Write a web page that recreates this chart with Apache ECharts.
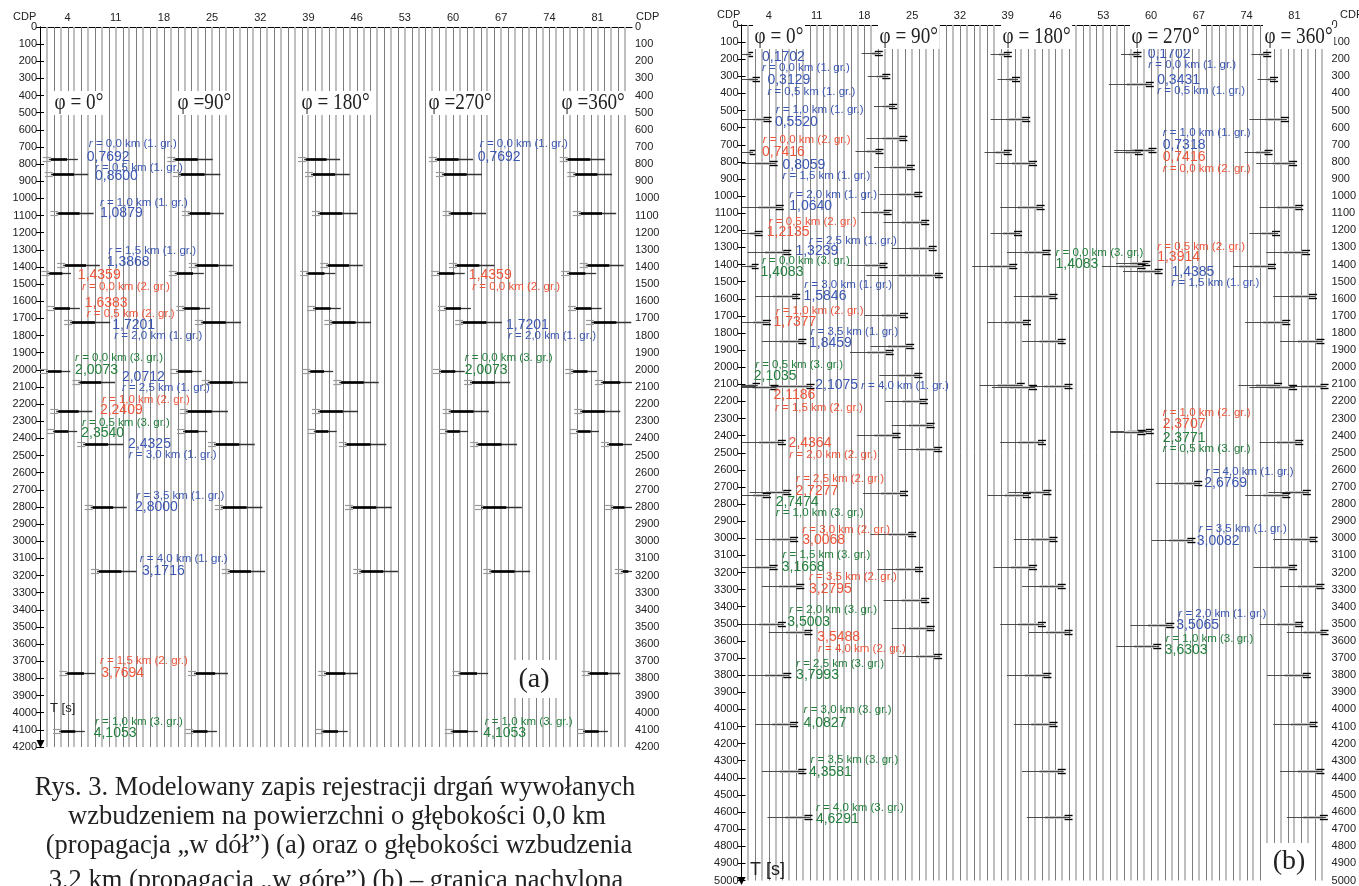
<!DOCTYPE html>
<html>
<head>
<meta charset="utf-8">
<script src="https://cdn.jsdelivr.net/npm/echarts@6/dist/echarts.min.js"></script>
<style>
  html, body { margin: 0; padding: 0; background: #ffffff; }
  #chart { width: 1359px; height: 886px; }
</style>
</head>
<body>
<div id="chart"></div>
<script>
// ---------- data ----------
const traceCdp = [1,2,3,4,5,6,7,8,9,10,11,12,13,14,15,16,17,18,19,20,21,22,23,24,25,26,27,28,29,30,
  31,32,33,34,35,36,37,38,39,40,41,42,43,44,45,46,47,48,49,50,51,52,53,54,55,56,57,58,59,60,
  61,62,63,64,65,66,67,68,69,70,71,72,73,74,75,76,77,78,79,80,81,82,83,84,85];
const cdpTicks = [4, 11, 18, 25, 32, 39, 46, 53, 60, 67, 74, 81];
const cdpMax = 86;
const tMaxA = 4200;
const tMaxB = 5000;

// (a) source at the surface: arrival times and source-receiver offsets
const aTime   = [769.2, 860.0, 1087.9, 1386.8, 1435.9, 1638.3, 1720.1, 2007.3, 2071.2, 2240.9, 2354.0, 2432.5, 2800.0, 3171.6, 3769.4, 4105.3];
const aOffset = ['0,0','0,5','1,0','1,5','0,0','0,5','2,0','0,0','2,5','1,0','0,5','3,0','3,5','4,0','1,5','1,0'];
const aRefl   = [1, 1, 1, 1, 2, 2, 1, 3, 1, 2, 3, 1, 1, 1, 2, 3];
// wavelet extent (CDP) in each azimuth gather: phi = 0, 90, 180, 270, 360
const aStart = [
  [0.4, 0.7, 1.5, 2.5, 0.2, 1.0, 3.5, 0.0, 4.7, 1.5, 1.0, 5.4, 6.5, 7.4, 2.8, 1.9],
  [18.5, 19.3, 20.6, 21.6, 18.7, 19.8, 22.5, 18.9, 23.5, 20.3, 19.9, 24.4, 25.4, 26.4, 21.5, 21.1],
  [37.5, 38.5, 39.5, 40.7, 37.8, 38.8, 41.3, 38.1, 42.6, 39.5, 38.9, 43.4, 44.3, 45.5, 40.4, 40.0],
  [56.5, 57.5, 58.5, 59.4, 56.8, 57.8, 60.3, 57.1, 61.6, 58.5, 58.0, 62.5, 63.2, 64.4, 59.9, 58.8],
  [75.5, 76.6, 77.4, 78.4, 75.7, 76.7, 79.3, 76.3, 80.6, 77.6, 77.0, 81.5, 82.1, 83.5, 78.7, 78.0]
];
const aEnd = [
  [5.5, 7.0, 7.8, 8.7, 4.5, 5.8, 10.2, 4.4, 10.9, 7.6, 5.4, 12.1, 12.6, 14.0, 8.0, 6.5],
  [25.1, 26.2, 26.7, 28.0, 23.8, 24.7, 29.2, 23.5, 30.2, 27.3, 24.3, 31.2, 32.3, 32.7, 27.3, 25.7],
  [43.6, 45.0, 46.1, 46.9, 42.9, 43.7, 48.1, 42.6, 49.2, 46.2, 43.1, 50.3, 51.1, 52.0, 46.2, 44.7],
  [62.9, 64.2, 64.8, 66.0, 61.7, 62.6, 67.1, 61.7, 68.3, 65.2, 62.2, 69.3, 70.0, 71.2, 65.1, 63.6],
  [82.1, 83.1, 83.7, 84.8, 80.8, 81.6, 85.9, 80.9, 86.0, 84.3, 81.2, 86.0, 86.0, 86.0, 84.3, 82.5]
];

// (b) source at 3,2 km depth, gathers phi = 0 / 180 / 360
const bTime   = [170.2, 312.9, 552.0, 741.6, 805.9, 1064.0, 1213.5, 1323.9, 1408.3, 1584.6, 1737.7, 1845.9, 2103.5, 2107.5,
                 2118.6, 2436.4, 2727.7, 2747.4, 3006.8, 3166.8, 3279.5, 3500.3, 3548.8, 3799.3, 4082.7, 4358.1, 4629.1];
const bOffset = ['0,0','0,5','1,0','0,0','1,5','2,0','0,5','2,5','0,0','3,0','1,0','3,5','0,5','4,0',
                 '1,5','2,0','2,5','1,0','3,0','1,5','3,5','2,0','4,0','2,5','3,0','3,5','4,0'];
const bRefl   = [1,1,1,2,1,1,2,1,3,1,2,1,3,1,2,2,2,3,2,3,2,3,2,3,3,3,3];
const bStart0   = [0.0,0.0,0.0,0.0,0.0,0.0,0.0,0.9,0.0,2.0,0.0,3.0,0.0,0.0,0.0,0.0,1.2,0.0,2.0,0.0,3.0,0.0,4.0,0.9,2.0,3.0,3.8];
const bEnd0     = [1.7,2.7,4.4,2.0,5.3,6.2,3.1,7.3,2.5,8.6,4.3,9.5,2.7,10.7,5.4,6.5,7.3,4.3,8.3,5.3,9.2,6.5,10.4,7.3,8.3,9.5,10.4];
const bStart180 = [36.5,37.5,36.5,35.6,37.2,37.9,36.5,38.9,33.8,39.9,36.0,41.1,34.9,41.5,36.7,37.9,39.1,36.0,39.9,36.9,41.1,37.9,42.1,38.9,39.9,41.1,41.8];
const bEnd180   = [39.6,40.8,42.3,39.6,43.3,44.4,41.1,45.3,40.4,46.3,42.4,47.5,41.5,48.5,43.3,44.6,45.4,42.4,46.3,43.3,47.5,44.6,48.5,45.4,46.3,47.5,48.5];
const bStart360 = [74.7,75.6,74.4,73.7,75.4,75.9,74.4,76.9,72.0,77.9,73.8,78.9,72.8,79.5,74.4,75.9,77.2,73.8,77.9,75.0,78.9,75.9,79.9,77.0,77.9,78.9,79.9];
const bEnd360   = [77.6,78.6,80.2,77.8,81.4,82.3,78.9,83.3,78.3,84.3,80.4,85.4,79.2,86.0,81.4,82.3,83.4,80.4,84.4,81.4,85.4,82.3,86.0,83.4,84.4,85.4,85.9];

// (b) gather phi = 90
const b90Time  = [165, 296, 475, 659, 737, 830, 990, 1091, 1153, 1302, 1405, 1459, 1696, 1878, 1913, 2045, 2196, 2339, 2399, 2481, 2733, 2975, 3178, 3359, 3527, 3688];
const b90Start = [17.6,18.5,19.4,18.3,16.7,19.4,20.2,17.5,20.8,22.0,15.6,18.3,18.0,18.9,15.9,20.2,21.1,22.0,16.9,23.0,17.8,18.9,19.9,20.8,22.0,23.0];
const b90End   = [20.7,21.8,22.8,24.3,20.8,25.4,26.5,22.0,27.5,28.6,21.4,29.5,24.4,25.3,22.3,26.5,27.3,28.3,23.3,29.4,24.4,25.6,26.6,27.5,28.3,29.4];

// (b) gather phi = 270
const b270Time   = [170.2, 343.1, 731.8, 741.6, 1391.4, 1408.3, 1438.5, 2370.7, 2377.1, 2676.9, 3008.2, 3506.5, 3630.3];
const b270Offset = ['0,0','0,5','1,0','0,0','0,5','0,0','1,5','1,0','0,5','4,0','3,5','2,0','1,0'];
const b270Refl   = [1, 1, 1, 2, 2, 3, 1, 2, 3, 1, 1, 1, 3];
const b270Start  = [55.6,53.8,54.6,54.6,54.9,52.8,55.9,54.0,54.0,60.7,60.1,57.0,54.9];
const b270End    = [58.6,60.4,60.8,58.8,59.9,59.2,61.7,60.4,59.2,67.5,66.5,63.4,61.5];

// ---------- annotation layout ----------
// [event index, value-text x (CDP), value dy (px), r-text x (CDP), r-text dy (px)]
const aNotes0 = [
  [0, 6.8, -2, 7.1, -15], [1, 8.0, 2, 8.0, -7], [2, 8.7, 0, 8.7, -11], [3, 9.7, -3, 9.9, -14],
  [4, 5.5, 2, 6.1, 14], [5, 6.5, -5, 6.8, 6], [6, 10.5, 3, 10.8, 14], [7, 5.1, -1, 5.1, -13],
  [8, 11.9, -5, 11.9, 6], [9, 8.7, -1, 9.0, -11], [10, 6.0, 3, 6.1, -8], [11, 12.8, 0, 12.9, 11],
  [12, 13.8, 0, 14.0, -11], [13, 14.8, 0, 14.5, -12], [14, 8.9, 0, 8.7, -12], [15, 7.8, 2, 8.0, -9]
];
const aNotes270 = [
  [0, 63.6, -2, 63.9, -15], [4, 62.3, 2, 62.8, 14], [6, 67.7, 3, 68.0, 14], [7, 61.7, -1, 61.7, -13], [15, 64.4, 2, 64.6, -9]
];
const bNotes0 = [
  [0, 3.0, 3, 3.0, 14], [1, 3.8, 2, 3.8, 13], [2, 4.9, 3, 5.0, -10], [3, 3.0, 0, 3.1, -12],
  [4, 6.0, 2, 6.0, 13], [5, 7.0, -1, 7.0, -12], [6, 3.7, 0, 4.0, -11], [7, 7.9, 0, 9.9, -11],
  [8, 2.8, 6, 3.0, -5], [9, 9.1, 0, 9.2, -11], [10, 4.7, 0, 5.0, -11], [11, 9.9, 2, 10.1, -9],
  [12, 1.8, -9, 2.0, -20], [13, 10.8, 0, 17.5, 0], [14, 4.7, 8, 4.9, 20], [15, 6.9, 1, 7.0, 13],
  [16, 7.9, -1, 8.0, -13], [17, 5.0, 7, 5.0, 18], [18, 8.9, 1, 8.9, -10], [19, 5.9, 0, 6.0, -12],
  [20, 9.9, 3, 9.9, -9], [21, 6.7, -2, 7.0, -14], [22, 11.1, 5, 11.2, 17], [23, 8.0, 0, 8.0, -11],
  [24, 9.1, 0, 9.1, -14], [25, 9.9, 1, 10.1, -11], [26, 10.9, 2, 10.9, -9]
];
const bNotes270 = [
  [0, 59.5, 0, 59.6, 11], [1, 60.9, -4, 60.9, 7], [2, 61.7, -5, 61.7, -17], [3, 61.7, 5, 61.7, 17],
  [4, 60.9, -6, 60.9, -16], [5, 46.0, -2, 46.0, -13], [6, 63.0, 1, 63.0, 12], [7, 61.7, -6, 61.7, -18],
  [8, 61.7, 6, 61.7, 17], [9, 67.8, 0, 68.0, -11], [10, 66.7, 1, 67.0, -11], [11, 63.7, 0, 64.0, -11],
  [12, 62.0, 4, 62.1, -7]
];

// ---------- helpers ----------
const SANS = '"Liberation Sans", Arial, sans-serif';
const SERIF = '"Liberation Serif", "Times New Roman", serif';
const reflColor = { 1: '#3b57b3', 2: '#f0553a', 3: '#23803d' };
const fmtTime = t => (t / 1000).toFixed(4).replace('.', ',');
const rText = (off, refl) => '{it|r} = ' + off + ' km (' + refl + '. gr.)';

function traceSeries(xi, yi, tMax) {
  return {
    type: 'custom', xAxisIndex: xi, yAxisIndex: yi, silent: true, z: 1,
    data: traceCdp.map(c => [c, 0, tMax]),
    encode: { x: 0, y: [1, 2] },
    renderItem: function (params, api) {
      const c = api.value(0);
      const p0 = api.coord([c, api.value(1)]);
      const p1 = api.coord([c, api.value(2)]);
      const light = params.dataIndex % 2 === 0;
      const x = Math.round(p0[0]) + (light ? 0 : 0.5);
      return { type: 'line', shape: { x1: x, y1: p0[1], x2: x, y2: p1[1] },
               style: { stroke: light ? '#b9b9b9' : '#7d7d7d', lineWidth: light ? 1.8 : 1 } };
    }
  };
}

// wavelet drawn from the surface-source record: grey negative lobe, black positive swing
function renderA(params, api) {
  const t = api.value(0);
  const p0 = api.coord([api.value(1), t]);
  const p1 = api.coord([api.value(2), t]);
  const y = Math.round(p0[1]) + 0.5, x0 = p0[0], x1 = p1[0];
  const L = x1 - x0;
  return { type: 'group', children: [
    { type: 'line', shape: { x1: x0, y1: y - 2, x2: x0 + 8, y2: y - 2 }, style: { stroke: '#999', lineWidth: 1.2 } },
    { type: 'line', shape: { x1: x0, y1: y + 2, x2: x0 + 8, y2: y + 2 }, style: { stroke: '#999', lineWidth: 1.2 } },
    { type: 'line', shape: { x1: x0 + 6, y1: y, x2: x1, y2: y }, style: { stroke: '#333', lineWidth: 1.3 } },
    { type: 'line', shape: { x1: x0 + 8, y1: y, x2: x0 + 8 + 0.6 * (L - 8), y2: y }, style: { stroke: '#000', lineWidth: 2.6 } }
  ] };
}

// wavelet drawn from the buried-source record: thin swing ending in a black double stroke
function renderB(params, api) {
  const t = api.value(0);
  const p0 = api.coord([api.value(1), t]);
  const p1 = api.coord([api.value(2), t]);
  const y = Math.round(p0[1]) + 0.5, x0 = p0[0], x1 = p1[0];
  const L = x1 - x0;
  const eq = Math.min(8, L * 0.4);
  return { type: 'group', children: [
    { type: 'line', shape: { x1: x0 + 0.4 * L, y1: y, x2: x1 - eq + 1, y2: y }, style: { stroke: '#c4c4c4', lineWidth: 3 } },
    { type: 'line', shape: { x1: x0, y1: y, x2: x1 - 2, y2: y }, style: { stroke: '#3a3a3a', lineWidth: 0.9 } },
    { type: 'line', shape: { x1: x1 - eq, y1: y - 2, x2: x1, y2: y - 2 }, style: { stroke: '#000', lineWidth: 1.4 } },
    { type: 'line', shape: { x1: x1 - eq, y1: y + 2, x2: x1, y2: y + 2 }, style: { stroke: '#000', lineWidth: 1.4 } }
  ] };
}

function eventSeries(xi, yi, times, starts, ends, render) {
  return {
    type: 'custom', xAxisIndex: xi, yAxisIndex: yi, silent: true, z: 3,
    data: times.map((t, i) => [t, starts[i], ends[i]]),
    encode: { x: [1, 2], y: 0 },
    renderItem: render
  };
}

function noteSeries(xi, yi, notes, times, offsets, refls) {
  return {
    type: 'custom', xAxisIndex: xi, yAxisIndex: yi, silent: true, z: 5,
    data: notes.map(n => [times[n[0]], n[1], n[2], n[3], n[4], n[0]]),
    encode: { x: [1, 3], y: 0 },
    renderItem: function (params, api) {
      const t = api.value(0);
      const k = api.value(5);
      const col = reflColor[refls[k]];
      const pv = api.coord([api.value(1), t]);
      const pr = api.coord([api.value(3), t]);
      return { type: 'group', children: [
        { type: 'text', x: pv[0], y: pv[1] + api.value(2),
          style: { text: fmtTime(t), fill: col, fontSize: 14, fontFamily: SANS, align: 'left', verticalAlign: 'middle' } },
        { type: 'text', x: pr[0], y: pr[1] + api.value(4),
          style: { text: rText(offsets[k], refls[k]), fill: col, fontSize: 11.5, fontFamily: SANS,
                   align: 'left', verticalAlign: 'middle', rich: { it: { fontStyle: 'italic', fontSize: 11.5, fill: col } } } }
      ] };
    }
  };
}

// ---------- axes ----------
function topAxis(gi) {
  return { gridIndex: gi, type: 'value', position: 'top', min: 0, max: cdpMax,
    axisLine: { show: false }, axisTick: { show: false }, splitLine: { show: false },
    axisLabel: { customValues: cdpTicks, fontSize: 11, color: '#222', margin: 4, fontFamily: SANS } };
}
function bottomAxis(gi) {
  return { gridIndex: gi, type: 'value', position: 'bottom', min: 0, max: cdpMax,
    axisLine: { show: true, lineStyle: { color: '#000', width: 1 } }, axisTick: { show: false },
    axisLabel: { show: false }, splitLine: { show: false } };
}
function timeAxis(gi, pos, tMax) {
  return { gridIndex: gi, type: 'value', position: pos, inverse: true, min: 0, max: tMax, interval: 100,
    axisLine: { show: true, lineStyle: { color: '#000', width: 1 } },
    axisTick: { show: true, length: 4, lineStyle: { color: '#000' } },
    axisLabel: { fontSize: 11, color: '#222', margin: 3, fontFamily: SANS, showMinLabel: true, showMaxLabel: true,
                 formatter: v => String(v) },
    splitLine: { show: false } };
}

// azimuth captions, set in a condensed serif
function phiLabel(x, y, s) {
  return { type: 'text', x: x, y: y, z: 10, scaleX: 0.8, originX: 0,
    style: { text: s, fontSize: 24, fontFamily: SERIF, fill: '#222', backgroundColor: '#fff', padding: [0, 2],
             align: 'left', verticalAlign: 'middle' } };
}
function plainText(x, y, s, size, family, align) {
  return { type: 'text', x: x, y: y, z: 10,
    style: { text: s, fontSize: size, fontFamily: family, fill: '#222', align: align || 'left', verticalAlign: 'middle' } };
}

const option = {
  animation: false,
  backgroundColor: '#ffffff',
  grid: [
    { left: 40, top: 27, width: 592, height: 720 },
    { left: 741.5, top: 25, width: 593.5, height: 860 }
  ],
  xAxis: [topAxis(0), bottomAxis(0), topAxis(1), bottomAxis(1)],
  yAxis: [timeAxis(0, 'left', tMaxA), timeAxis(0, 'right', tMaxA), timeAxis(1, 'left', tMaxB), timeAxis(1, 'right', tMaxB)],
  series: [
    traceSeries(0, 0, tMaxA),
    traceSeries(2, 2, tMaxB),
    ...aStart.map((s, g) => eventSeries(0, 0, aTime, s, aEnd[g], renderA)),
    eventSeries(2, 2, bTime, bStart0, bEnd0, renderB),
    eventSeries(2, 2, bTime, bStart180, bEnd180, renderB),
    eventSeries(2, 2, bTime, bStart360, bEnd360, renderB),
    eventSeries(2, 2, b90Time, b90Start, b90End, renderB),
    eventSeries(2, 2, b270Time, b270Start, b270End, renderB),
    noteSeries(0, 0, aNotes0, aTime, aOffset, aRefl),
    noteSeries(0, 0, aNotes270, aTime, aOffset, aRefl),
    noteSeries(2, 2, bNotes0, bTime, bOffset, bRefl),
    noteSeries(2, 2, bNotes270, b270Time, b270Offset, b270Refl)
  ],
  graphic: [
    plainText(13, 17, 'CDP', 11, SANS), plainText(636, 17, 'CDP', 11, SANS),
    plainText(717, 15, 'CDP', 11, SANS), plainText(1340, 15, 'CDP', 11, SANS),
    plainText(50, 708, 'T [s]', 13, SANS), plainText(750, 870, 'T [s]', 18, SANS),
    { type: 'polygon', z: 10, shape: { points: [[36.5, 740], [44.5, 740], [40.5, 748]] }, style: { fill: '#000' } },
    { type: 'polygon', z: 10, shape: { points: [[737.5, 877], [745.5, 877], [741.5, 885]] }, style: { fill: '#000' } },
    phiLabel(53, 103, 'φ = 0°'), phiLabel(176, 103, 'φ =90°'), phiLabel(300, 103, 'φ = 180°'),
    phiLabel(427, 103, 'φ =270°'), phiLabel(560, 103, 'φ =360°'),
    phiLabel(753, 37, 'φ = 0°'), phiLabel(878, 37, 'φ = 90°'), phiLabel(1001, 37, 'φ = 180°'),
    phiLabel(1130, 37, 'φ = 270°'), phiLabel(1263, 37, 'φ = 360°'),
    { type: 'rect', z: 9, shape: { x: 509, y: 660, width: 50, height: 38 }, style: { fill: '#fff' } },
    plainText(534, 680, '(a)', 28, SERIF, 'center'),
    { type: 'rect', z: 9, shape: { x: 1265, y: 843, width: 48, height: 42 }, style: { fill: '#fff' } },
    plainText(1289, 862, '(b)', 28, SERIF, 'center'),
    plainText(335, 788, 'Rys. 3. Modelowany zapis rejestracji drgań wywołanych', 26.5, SERIF, 'center'),
    plainText(337, 817, 'wzbudzeniem na powierzchni o głębokości 0,0 km', 26.5, SERIF, 'center'),
    plainText(339, 846, '(propagacja „w dół”) (a) oraz o głębokości wzbudzenia', 26.5, SERIF, 'center'),
    plainText(336, 881, '3,2 km (propagacja „w górę”) (b) – granica nachylona', 26.5, SERIF, 'center')
  ]
};

const chart = echarts.init(document.getElementById('chart'));
chart.setOption(option);
</script>
</body>
</html>
